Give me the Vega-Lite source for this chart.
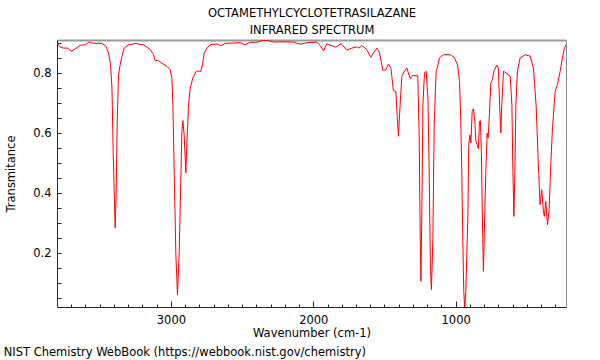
{
  "$schema": "https://vega.github.io/schema/vega-lite/v6.json",
  "width": 509,
  "height": 267,
  "autosize": "none",
  "padding": {"left": 57, "top": 40, "right": 34, "bottom": 53},
  "background": "white",
  "config": {"font": "DejaVu Sans", "view": {"stroke": "#888", "strokeWidth": 1}},
  "title": {"text": "NIST Chemistry WebBook (https://webbook.nist.gov/chemistry)", "orient": "bottom", "anchor": "start", "frame": "bounds", "fontSize": 11.5, "fontWeight": "normal", "color": "#000", "offset": 8, "dx": -2},
  "data": {"values": [
    {"wn": 3800, "t": 0.900}, {"wn": 3777, "t": 0.886}, {"wn": 3754, "t": 0.883}, {"wn": 3723, "t": 0.883},
    {"wn": 3700, "t": 0.872}, {"wn": 3672, "t": 0.881}, {"wn": 3637, "t": 0.892}, {"wn": 3602, "t": 0.894},
    {"wn": 3579, "t": 0.902}, {"wn": 3543, "t": 0.899}, {"wn": 3485, "t": 0.899}, {"wn": 3456, "t": 0.889},
    {"wn": 3438, "t": 0.867}, {"wn": 3424, "t": 0.828}, {"wn": 3414, "t": 0.75}, {"wn": 3405, "t": 0.528},
    {"wn": 3396, "t": 0.361}, {"wn": 3391, "t": 0.283}, {"wn": 3384, "t": 0.417}, {"wn": 3377, "t": 0.64},
    {"wn": 3368, "t": 0.794}, {"wn": 3356, "t": 0.828}, {"wn": 3344, "t": 0.856}, {"wn": 3328, "t": 0.883},
    {"wn": 3298, "t": 0.894}, {"wn": 3251, "t": 0.898}, {"wn": 3192, "t": 0.894}, {"wn": 3145, "t": 0.878},
    {"wn": 3122, "t": 0.861}, {"wn": 3110, "t": 0.841}, {"wn": 3087, "t": 0.841}, {"wn": 3063, "t": 0.833},
    {"wn": 3028, "t": 0.822}, {"wn": 3005, "t": 0.811}, {"wn": 2993, "t": 0.783}, {"wn": 2986, "t": 0.694},
    {"wn": 2977, "t": 0.472}, {"wn": 2965, "t": 0.194}, {"wn": 2954, "t": 0.061}, {"wn": 2942, "t": 0.194},
    {"wn": 2930, "t": 0.45}, {"wn": 2923, "t": 0.606}, {"wn": 2916, "t": 0.641}, {"wn": 2907, "t": 0.594},
    {"wn": 2895, "t": 0.467}, {"wn": 2886, "t": 0.583}, {"wn": 2876, "t": 0.694}, {"wn": 2864, "t": 0.75},
    {"wn": 2846, "t": 0.783}, {"wn": 2822, "t": 0.806}, {"wn": 2806, "t": 0.806}, {"wn": 2789, "t": 0.806},
    {"wn": 2778, "t": 0.828}, {"wn": 2766, "t": 0.867}, {"wn": 2747, "t": 0.883}, {"wn": 2724, "t": 0.894},
    {"wn": 2677, "t": 0.897}, {"wn": 2649, "t": 0.891}, {"wn": 2619, "t": 0.899}, {"wn": 2560, "t": 0.9},
    {"wn": 2513, "t": 0.901}, {"wn": 2478, "t": 0.894}, {"wn": 2448, "t": 0.902}, {"wn": 2396, "t": 0.903},
    {"wn": 2350, "t": 0.909}, {"wn": 2315, "t": 0.908}, {"wn": 2280, "t": 0.903}, {"wn": 2233, "t": 0.904},
    {"wn": 2139, "t": 0.903}, {"wn": 2092, "t": 0.896}, {"wn": 2057, "t": 0.9}, {"wn": 2022, "t": 0.902},
    {"wn": 1975, "t": 0.903}, {"wn": 1952, "t": 0.892}, {"wn": 1928, "t": 0.874}, {"wn": 1905, "t": 0.897},
    {"wn": 1874, "t": 0.892}, {"wn": 1841, "t": 0.886}, {"wn": 1804, "t": 0.898}, {"wn": 1764, "t": 0.876},
    {"wn": 1729, "t": 0.883}, {"wn": 1694, "t": 0.887}, {"wn": 1678, "t": 0.883}, {"wn": 1659, "t": 0.892},
    {"wn": 1624, "t": 0.878}, {"wn": 1596, "t": 0.853}, {"wn": 1577, "t": 0.867}, {"wn": 1553, "t": 0.883},
    {"wn": 1535, "t": 0.867}, {"wn": 1511, "t": 0.809}, {"wn": 1490, "t": 0.811}, {"wn": 1472, "t": 0.83},
    {"wn": 1455, "t": 0.817}, {"wn": 1437, "t": 0.741}, {"wn": 1420, "t": 0.739}, {"wn": 1411, "t": 0.661},
    {"wn": 1402, "t": 0.589}, {"wn": 1390, "t": 0.694}, {"wn": 1378, "t": 0.789}, {"wn": 1360, "t": 0.806},
    {"wn": 1343, "t": 0.817}, {"wn": 1332, "t": 0.8}, {"wn": 1318, "t": 0.781}, {"wn": 1303, "t": 0.791},
    {"wn": 1266, "t": 0.791}, {"wn": 1256, "t": 0.583}, {"wn": 1249, "t": 0.25}, {"wn": 1244, "t": 0.106},
    {"wn": 1237, "t": 0.361}, {"wn": 1230, "t": 0.694}, {"wn": 1219, "t": 0.8}, {"wn": 1207, "t": 0.806},
    {"wn": 1195, "t": 0.717}, {"wn": 1186, "t": 0.472}, {"wn": 1177, "t": 0.139}, {"wn": 1170, "t": 0.078},
    {"wn": 1160, "t": 0.25}, {"wn": 1151, "t": 0.62}, {"wn": 1144, "t": 0.72}, {"wn": 1137, "t": 0.806},
    {"wn": 1128, "t": 0.819}, {"wn": 1114, "t": 0.85}, {"wn": 1086, "t": 0.861}, {"wn": 1039, "t": 0.861},
    {"wn": 1011, "t": 0.852}, {"wn": 987, "t": 0.828}, {"wn": 973, "t": 0.772}, {"wn": 964, "t": 0.639},
    {"wn": 957, "t": 0.472}, {"wn": 950, "t": 0.25}, {"wn": 943, "t": 0.072}, {"wn": 936, "t": 0.01},
    {"wn": 929, "t": 0.072}, {"wn": 922, "t": 0.189}, {"wn": 915, "t": 0.306}, {"wn": 908, "t": 0.561},
    {"wn": 900, "t": 0.594}, {"wn": 893, "t": 0.567}, {"wn": 884, "t": 0.672}, {"wn": 875, "t": 0.681},
    {"wn": 865, "t": 0.639}, {"wn": 858, "t": 0.572}, {"wn": 849, "t": 0.561}, {"wn": 840, "t": 0.547},
    {"wn": 833, "t": 0.639}, {"wn": 826, "t": 0.641}, {"wn": 819, "t": 0.528}, {"wn": 812, "t": 0.306},
    {"wn": 805, "t": 0.139}, {"wn": 798, "t": 0.283}, {"wn": 788, "t": 0.472}, {"wn": 779, "t": 0.6},
    {"wn": 772, "t": 0.583}, {"wn": 763, "t": 0.661}, {"wn": 753, "t": 0.767}, {"wn": 742, "t": 0.778},
    {"wn": 730, "t": 0.808}, {"wn": 711, "t": 0.826}, {"wn": 700, "t": 0.817}, {"wn": 693, "t": 0.717},
    {"wn": 683, "t": 0.6}, {"wn": 676, "t": 0.694}, {"wn": 664, "t": 0.806}, {"wn": 646, "t": 0.8},
    {"wn": 617, "t": 0.789}, {"wn": 605, "t": 0.694}, {"wn": 598, "t": 0.472}, {"wn": 591, "t": 0.322},
    {"wn": 584, "t": 0.472}, {"wn": 577, "t": 0.694}, {"wn": 566, "t": 0.806}, {"wn": 547, "t": 0.85},
    {"wn": 512, "t": 0.861}, {"wn": 477, "t": 0.856}, {"wn": 454, "t": 0.817}, {"wn": 435, "t": 0.694},
    {"wn": 419, "t": 0.494}, {"wn": 407, "t": 0.361}, {"wn": 395, "t": 0.411}, {"wn": 384, "t": 0.339},
    {"wn": 377, "t": 0.322}, {"wn": 367, "t": 0.372}, {"wn": 355, "t": 0.294}, {"wn": 344, "t": 0.339},
    {"wn": 332, "t": 0.494}, {"wn": 320, "t": 0.617}, {"wn": 301, "t": 0.739}, {"wn": 285, "t": 0.761},
    {"wn": 266, "t": 0.806}, {"wn": 250, "t": 0.85}, {"wn": 236, "t": 0.883}, {"wn": 226, "t": 0.893}
  ]},
  "layer": [
    {
      "mark": {"type": "line", "color": "#ff0000", "strokeWidth": 1, "clip": true},
      "encoding": {
        "x": {
          "field": "wn", "type": "quantitative",
          "scale": {"domain": [3800, 225], "nice": false, "zero": false},
          "axis": {
            "orient": "bottom",
            "values": [300, 400, 500, 600, 700, 800, 900, 1000, 1100, 1200, 1300, 1400, 1500, 1600, 1700, 1800, 1900, 2000, 2100, 2200, 2300, 2400, 2500, 2600, 2700, 2800, 2900, 3000, 3100, 3200, 3300, 3400, 3500, 3600, 3700],
            "format": "d",
            "labelExpr": "datum.value % 1000 === 0 ? datum.label : ''",
            "labelOverlap": false,
            "labelFlush": false,
            "tickSize": {"condition": {"test": "datum.value % 1000 === 0", "value": -6}, "value": -3},
            "labelPadding": 13,
            "grid": false,
            "domainColor": "#222",
            "tickColor": "#222",
            "labelColor": "#000",
            "labelFontSize": 11.5,
            "title": "Wavenumber (cm-1)",
            "titleFontSize": 11.5,
            "titleFontWeight": "normal",
            "titleColor": "#000",
            "titlePadding": -1
          }
        },
        "y": {
          "field": "t", "type": "quantitative",
          "scale": {"domain": [0.02, 0.91], "nice": false, "zero": false},
          "axis": {
            "values": [0.05, 0.1, 0.15, 0.2, 0.25, 0.3, 0.35, 0.4, 0.45, 0.5, 0.55, 0.6, 0.65, 0.7, 0.75, 0.8, 0.85, 0.9],
            "format": ".1f",
            "labelExpr": "abs(datum.value * 5 - round(datum.value * 5)) < 0.001 ? datum.label : ''",
            "labelOverlap": false,
            "labelFlush": false,
            "tickSize": -4,
            "labelPadding": 10,
            "grid": false,
            "domainColor": "#222",
            "tickColor": "#222",
            "labelColor": "#000",
            "labelFontSize": 11.5,
            "title": "Transmitance",
            "titleFontSize": 11.5,
            "titleFontWeight": "normal",
            "titleColor": "#000",
            "titlePadding": 16
          }
        }
      }
    },
    {
      "mark": {"type": "line", "strokeOpacity": 0, "clip": true},
      "encoding": {
        "x": {
          "field": "wn", "type": "quantitative",
          "axis": {
            "orient": "top",
            "ticks": false,
            "labels": false,
            "grid": false,
            "domainColor": "#999",
            "domainWidth": 2,
            "title": ["OCTAMETHYLCYCLOTETRASILAZANE", "INFRARED SPECTRUM"],
            "titleFontSize": 11.5,
            "titleFontWeight": "normal",
            "titleColor": "#000",
            "titleLineHeight": 17,
            "titlePadding": 5
          }
        }
      }
    }
  ],
  "resolve": {"axis": {"x": "independent"}}
}
